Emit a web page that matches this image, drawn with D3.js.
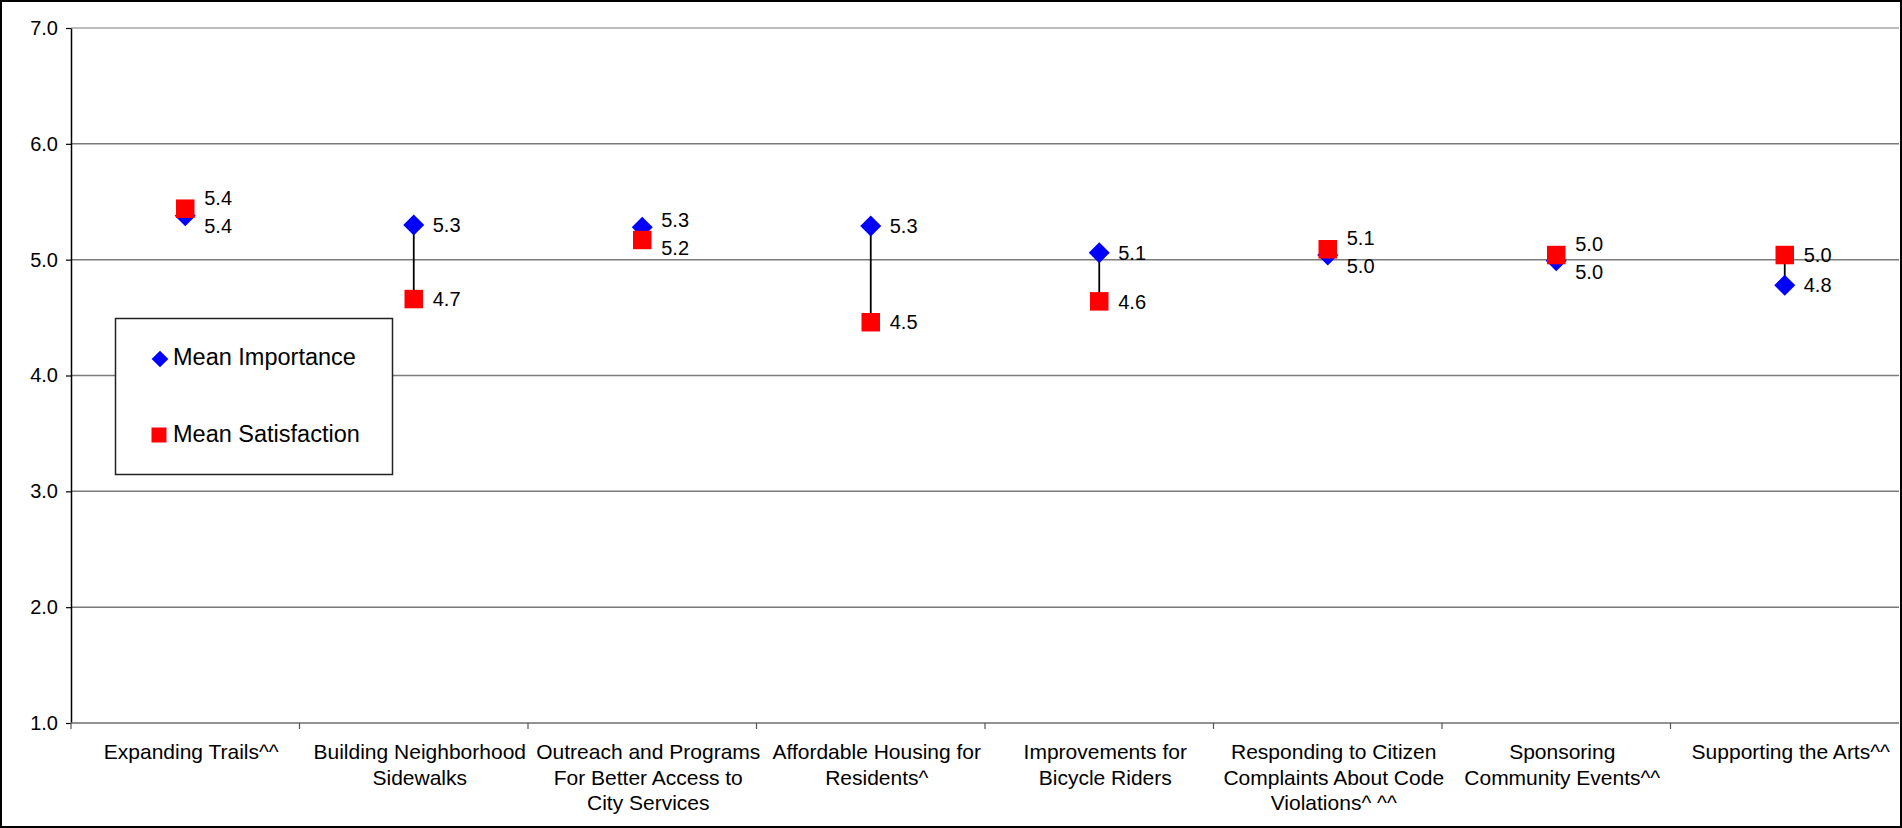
<!DOCTYPE html>
<html>
<head>
<meta charset="utf-8">
<script src="https://cdn.jsdelivr.net/npm/d3@7"></script>
<style>
  html, body { margin: 0; padding: 0; background: #fff; }
  svg { display: block; font-family: "Liberation Sans", Arial, sans-serif; }
</style>
</head>
<body>
<svg id="chart" width="1902" height="828"></svg>
<script>
// ---- data ----
const categories = [
  "Expanding Trails^^",
  "Building Neighborhood\nSidewalks",
  "Outreach and Programs\nFor Better Access to\nCity Services",
  "Affordable Housing for\nResidents^",
  "Improvements for\nBicycle Riders",
  "Responding to Citizen\nComplaints About Code\nViolations^ ^^",
  "Sponsoring\nCommunity Events^^",
  "Supporting the Arts^^"
];
const meanImportance   = [5.38, 5.30, 5.28, 5.29, 5.06, 5.04, 4.99, 4.78];
const meanSatisfaction = [5.44, 4.66, 5.17, 4.46, 4.64, 5.09, 5.04, 5.04];
const yTickValues = [1, 2, 3, 4, 5, 6, 7];
const seriesNames = ["Mean Importance", "Mean Satisfaction"];

// ---- layout ----
const W = 1902, H = 828;
const plot = { left: 71, right: 1899, top: 28, bottom: 723 };
const svg = d3.select("#chart");
const fmt = d3.format(".1f");

const x = d3.scaleBand().domain(categories).range([plot.left, plot.right]).padding(0);
const y = d3.scaleLinear().domain([1, 7]).range([plot.bottom, plot.top]);

// outer border
svg.append("rect").attr("x", 1).attr("y", 1).attr("width", W - 2).attr("height", H - 2)
  .attr("fill", "#fff").attr("stroke", "#000").attr("stroke-width", 2);

// gridlines
svg.append("g").selectAll("line").data(yTickValues.filter(v => v > 1)).join("line")
  .attr("x1", plot.left).attr("x2", plot.right)
  .attr("y1", d => y(d)).attr("y2", d => y(d))
  .attr("stroke", d => d === 7 ? "#bdbdbd" : "#7a7a7a")
  .attr("stroke-width", d => d === 7 ? 2 : 1.5);

// y axis
const yAxis = svg.append("g").attr("transform", `translate(${plot.left},0)`)
  .call(d3.axisLeft(y).tickValues(yTickValues).tickFormat(fmt).tickSize(5).tickSizeOuter(0).tickPadding(8));
yAxis.select(".domain").attr("stroke", "#000").attr("stroke-width", 1.5);
yAxis.selectAll(".tick line").attr("stroke", "#000").attr("stroke-width", 1.2);
yAxis.selectAll(".tick text").attr("font-size", 20).attr("fill", "#000")
  .attr("font-family", "'Liberation Sans', Arial, sans-serif");

// x axis line
svg.append("line").attr("x1", plot.left).attr("x2", plot.right)
  .attr("y1", plot.bottom).attr("y2", plot.bottom)
  .attr("stroke", "#6e6e6e").attr("stroke-width", 1.5);
// x ticks at category boundaries
svg.append("g").selectAll("line").data(categories).join("line")
  .attr("x1", d => x(d)).attr("x2", d => x(d))
  .attr("y1", plot.bottom).attr("y2", plot.bottom + 6)
  .attr("stroke", "#555").attr("stroke-width", 1.2);
// category labels
const catG = svg.append("g").selectAll("text").data(categories).join("text")
  .attr("text-anchor", "middle").attr("font-size", 21).attr("fill", "#000")
  .attr("transform", d => `translate(${x(d) + x.bandwidth() / 2 + 6},${759})`);
catG.selectAll("tspan").data(d => d.split("\n")).join("tspan")
  .attr("x", 0).attr("y", (d, i) => i * 25.5).text(d => d);

// data rows
const rows = categories.map((c, i) => ({ c, imp: meanImportance[i], sat: meanSatisfaction[i] }));

// connectors
svg.append("g").selectAll("line").data(rows).join("line")
  .attr("x1", d => x(d.c) + x.bandwidth() / 2).attr("x2", d => x(d.c) + x.bandwidth() / 2)
  .attr("y1", d => y(d.imp)).attr("y2", d => y(d.sat))
  .attr("stroke", "#000").attr("stroke-width", 1.8);

const diamond = d3.symbol().type(d3.symbolSquare).size(220);
const square = d3.symbol().type(d3.symbolSquare).size(342);

// importance diamonds
svg.append("g").selectAll("path").data(rows).join("path")
  .attr("d", diamond)
  .attr("transform", d => `translate(${x(d.c) + x.bandwidth() / 2},${y(d.imp)}) rotate(45)`)
  .attr("fill", "#0000ff");
// satisfaction squares
svg.append("g").selectAll("path").data(rows).join("path")
  .attr("d", square)
  .attr("transform", d => `translate(${x(d.c) + x.bandwidth() / 2},${y(d.sat)})`)
  .attr("fill", "#ff0000");

// data labels (spread apart when they would collide)
const labels = [];
rows.forEach(d => {
  let yi = y(d.imp), ys = y(d.sat);
  const minSep = 28;
  if (Math.abs(yi - ys) < minSep) {
    const mid = (yi + ys) / 2;
    if (ys <= yi) { ys = mid - minSep / 2; yi = mid + minSep / 2; }
    else { yi = mid - minSep / 2; ys = mid + minSep / 2; }
  }
  const cx = x(d.c) + x.bandwidth() / 2 + 19;
  labels.push({ x: cx, y: yi, t: fmt(d.imp) });
  labels.push({ x: cx, y: ys, t: fmt(d.sat) });
});
svg.append("g").selectAll("text").data(labels).join("text")
  .attr("x", d => d.x).attr("y", d => d.y).attr("dy", "0.36em")
  .attr("font-size", 20).attr("fill", "#000").text(d => d.t);

// legend
const lg = svg.append("g");
lg.append("rect").attr("x", 115.5).attr("y", 318.5).attr("width", 277).attr("height", 156)
  .attr("fill", "#fff").attr("stroke", "#222").attr("stroke-width", 1.5);
lg.append("path").attr("d", d3.symbol().type(d3.symbolSquare).size(140))
  .attr("transform", "translate(160,359) rotate(45)").attr("fill", "#0000ff");
lg.append("path").attr("d", d3.symbol().type(d3.symbolSquare).size(225))
  .attr("transform", "translate(159,435)").attr("fill", "#ff0000");
lg.selectAll("text").data(seriesNames).join("text")
  .attr("x", 173).attr("y", (d, i) => i === 0 ? 365 : 441.5)
  .attr("font-size", 23.5).attr("fill", "#000").text(d => d);
</script>
</body>
</html>
